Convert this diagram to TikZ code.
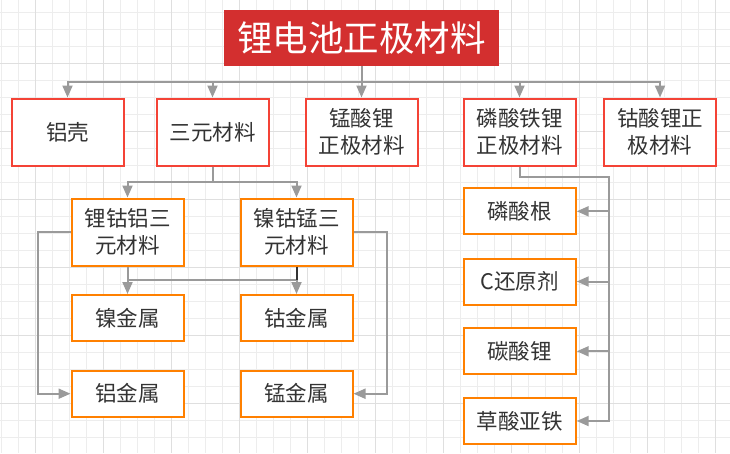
\documentclass[tikz,border=0pt]{standalone}
\usepackage{fontspec}
\newfontfamily\cjk{Noto Sans CJK SC}
\usetikzlibrary{arrows.meta}
\definecolor{titlered}{HTML}{D32F2F}
\definecolor{boxred}{HTML}{F44336}
\definecolor{boxorange}{HTML}{FF8000}
\definecolor{linegray}{HTML}{9A9A9A}
\definecolor{txt}{HTML}{333333}
\definecolor{gridminor}{HTML}{EDEDED}
\definecolor{gridmajor}{HTML}{DFDFDF}
\begin{document}
\begin{tikzpicture}[x=1pt, y=-1pt,
  ttl/.style={fill=titlered, text=white, minimum width=275pt, minimum height=56pt,
    inner sep=0pt, font=\cjk\fontsize{35.5}{40}\selectfont},
  boxb/.style={fill=white, line width=2pt, text=txt, minimum width=112pt, inner sep=0pt,
    align=center, font=\cjk\fontsize{21.5}{26.5}\selectfont},
  redb/.style={boxb, draw=boxred, minimum height=67pt},
  orgb/.style={boxb, draw=boxorange, minimum height=67pt},
  orgs/.style={boxb, draw=boxorange, minimum height=46pt},
  conn/.style={draw=linegray, line width=2pt, -{Triangle[length=12pt,width=10pt]}}]
  \useasboundingbox (0,0) rectangle (730,453);
  % background grid
  \foreach \i in {0,...,42}
    \draw[gridminor, line width=1pt] ({1.3+17*\i},0) -- ++(0,453);
  \foreach \j in {0,...,25}
    \draw[gridminor, line width=1pt] (0,{12.3+17*\j}) -- ++(730,0);
  \foreach \i in {2,6,...,42}
    \draw[gridmajor, line width=1pt] ({1.3+17*\i},0) -- ++(0,453);
  \foreach \j in {3,7,...,23}
    \draw[gridmajor, line width=1pt] (0,{12.3+17*\j}) -- ++(730,0);

  \node[ttl] (t) at (361.5,38) {锂电池正极材料};
  % second row
  \node[redb] (ke) at (67.5,132) {铝壳};
  \node[redb] (sy) at (212.5,132) {三元材料};
  \node[redb] (mn) at (361.5,132) {锰酸锂\\正极材料};
  \node[redb] (lfp) at (519.5,132) {磷酸铁锂\\正极材料};
  \node[redb] (co) at (660,132) {钴酸锂正\\极材料};
  % ternary materials
  \node[orgb] (nca) at (127.5,232) {锂钴铝三\\元材料};
  \node[orgb] (ncm) at (296.5,232) {镍钴锰三\\元材料};
  \node[orgs] (ni) at (127.5,318) {镍金属};
  \node[orgs] (cb) at (296.5,318) {钴金属};
  \node[orgs] (al) at (127.5,393.7) {铝金属};
  \node[orgs] (mg) at (296.5,393.7) {锰金属};
  % LiFePO4 raw materials
  \node[orgs] (po) at (519.7,211.3) {磷酸根};
  \node[orgs] (cr) at (519.7,281.5) {C还原剂};
  \node[orgs] (lc) at (519.7,351.3) {碳酸锂};
  \node[orgs] (fe) at (519.7,421) {草酸亚铁};
  \coordinate (rail) at (609.3,176.7);

  \foreach \n in {ke,sy,mn,lfp,co}
    \draw[conn] (t.south) -- ++(0,15.7) -| (\n.north);
  \foreach \n in {nca,ncm}
    \draw[conn] (sy.south) -- ++(0,15.4) -| (\n.north);
  \draw[conn] (nca.south) -- (ni.north);
  \draw[conn] (nca.south) -- ++(0,13.3) -| (cb.north);
  \draw[txt, line width=2pt] (ncm.south) -- ++(0,13.3);
  \draw[conn] (nca.west) -- ++(-33,0) |- (al.west);
  \draw[conn] (ncm.east) -- ++(33.4,0) |- (mg.east);
  \foreach \n in {po,cr,lc,fe}
    \draw[conn] (lfp.south) |- (rail) |- (\n.east);
\end{tikzpicture}
\end{document}
